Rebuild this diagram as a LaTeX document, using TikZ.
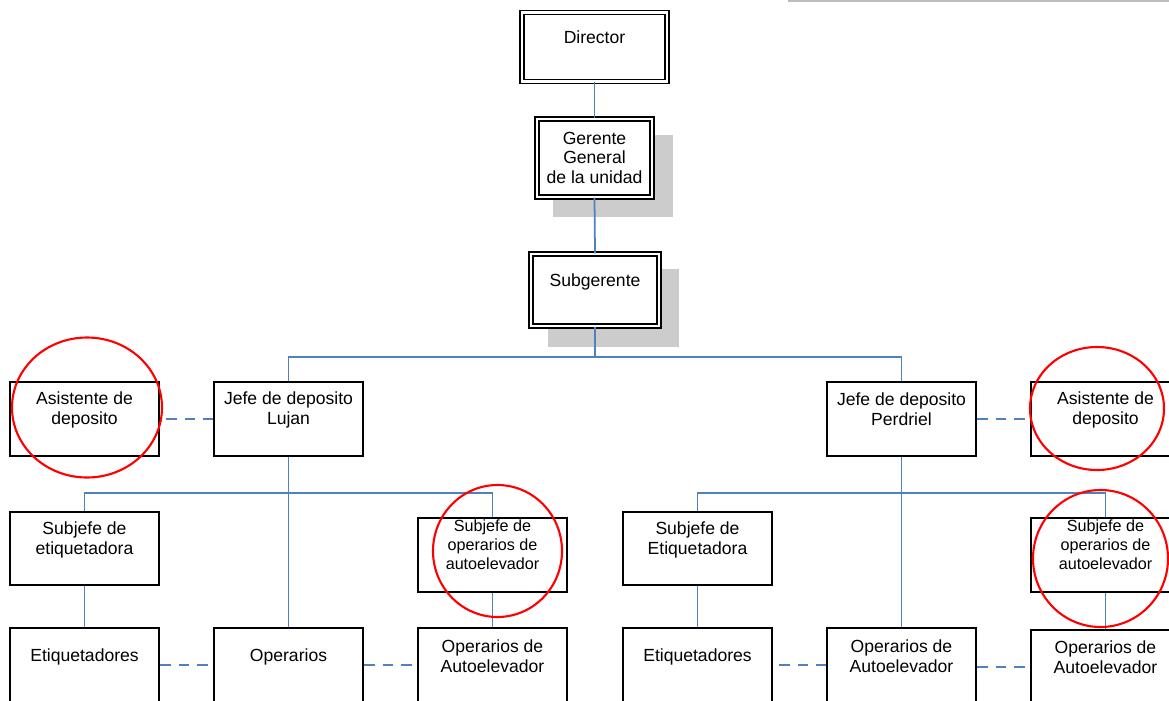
\documentclass[tikz,border=0pt]{standalone}
\usepackage{fontspec}
\setmainfont{Liberation Sans}
\usetikzlibrary{calc}
\definecolor{conblue}{RGB}{79,129,189}
\definecolor{shadowgray}{RGB}{204,204,204}
\definecolor{framegray}{RGB}{190,190,190}
\begin{document}
\begin{tikzpicture}[x=0.02cm,y=-0.02cm,
  box/.style={draw=black, line width=0.8pt, fill=white, inner sep=0pt,
    minimum width=149*0.02cm, minimum height=74*0.02cm},
  dbox/.style={draw=black, line width=0.7pt, double=white, double distance=1.5pt, fill=white, inner sep=0pt},
  lbl/.style={align=center, inner sep=0pt, font=\fontsize{10}{11.3}\selectfont},
  slbl/.style={align=center, inner sep=0pt, font=\fontsize{9.2}{11}\selectfont},
  con/.style={draw=conblue, line width=1pt},
  dcon/.style={draw=conblue, line width=1pt, dash pattern=on 6.2pt off 4.5pt},
  ring/.style={draw=red, line width=1.2pt}
]
\clip (0,0) rectangle (1169,700);
\fill[white] (0,0) rectangle (1169,700);
% partial frame at top right
\draw[framegray, line width=0.8pt] (789,-20) rectangle (1185,1.2);
% shadows
\fill[shadowgray] (553,135) rectangle (673,217);
\fill[shadowgray] (548,269) rectangle (679,347);
% top nodes
\node[dbox, minimum width=145*0.02cm, minimum height=69.5*0.02cm] (dir) at (594.5,47) {};
\node[dbox, minimum width=115*0.02cm, minimum height=78*0.02cm] (ger) at (594.5,158) {};
\node[dbox, minimum width=128*0.02cm, minimum height=72*0.02cm] (sub) at (595,290) {};
% level 2
\node[box] (asisL) at (84.5,419) {};
\node[box] (lujan) at (288.5,419) {};
\node[box] (perd) at (901.5,419) {};
\node[box] (asisR) at (1105.5,419) {};
% level 3
\node[box, minimum height=73*0.02cm] (subEtL) at (84.5,548.5) {};
\node[box] (subOpL) at (492.5,555) {};
\node[box] (etL) at (84.5,665) {};
\node[box] (operL) at (288.5,665) {};
\node[box] (opAuL) at (492.5,665) {};
\node[box, minimum height=73*0.02cm] (subEtR) at (697.5,548.5) {};
\node[box] (subOpR) at (1105.5,555) {};
\node[box] (etR) at (697.5,665) {};
\node[box] (opAuM) at (901.5,665) {};
\node[box] (opAuR) at (1105.5,667) {};
% connectors
\coordinate (bus1) at (595,357);
\coordinate (busL) at (288.5,493);
\coordinate (busR) at (901.5,493);
\draw[con] (dir.south) -- (ger.north);
\draw[con] (ger.south) -- (sub.north);
\draw[con] (sub.south) -- (bus1);
\draw[con] (lujan.north) |- (bus1) -| (perd.north);
\draw[con] (lujan.south) -- (operL.north);
\draw[con] (subEtL.north) |- (busL) -| (subOpL.north);
\draw[con] (subEtL.south) -- (etL.north);
\draw[con] (subOpL.south) -- (opAuL.north);
\draw[con] (perd.south) -- (opAuM.north);
\draw[con] (subEtR.north) |- (busR) -| (subOpR.north);
\draw[con] (subEtR.south) -- (etR.north);
\draw[con] (subOpR.south) -- (opAuR.north);
\draw[dcon] ([xshift=6*0.02cm]asisL.east) -- (lujan.west);
\draw[dcon] (perd.east) -- (asisR.west);
\draw[dcon] (etL.east) -- (operL.west);
\draw[dcon] (operL.east) -- (opAuL.west);
\draw[dcon] ([xshift=6*0.02cm]etR.east) -- (opAuM.west);
\draw[dcon] ([yshift=-2*0.02cm]opAuM.east) -- ([yshift=0*0.02cm]opAuR.west);
% labels
\node[lbl] (tdir) at ($(dir.north)+(0,25.5)$) {Director};
\node[lbl] (tger) at ($(ger.north)+(0,39.5)$) {Gerente\\General\\de la unidad};
\node[lbl] (tsub) at ($(sub.north)+(0,29)$) {Subgerente};
\node[lbl] (tasisL) at ($(asisL.north)+(0,29)$) {Asistente de\\deposito};
\node[lbl] (tlujan) at ($(lujan.north)+(0,29)$) {Jefe de deposito\\Lujan};
\node[lbl] (tperd) at ($(perd.north)+(0,28)$) {Jefe de deposito\\Perdriel};
\node[lbl] (tasisR) at ($(asisR.north)+(0,29)$) {Asistente de\\deposito};
\node[lbl] (tsubEtL) at ($(subEtL.north)+(0,28.5)$) {Subjefe de\\etiquetadora};
\node[slbl] (tsubOpL) at ($(subOpL.north)+(0,27.5)$) {Subjefe de\\operarios de\\autoelevador};
\node[lbl] (tetL) at ($(etL.north)+(0,30)$) {Etiquetadores};
\node[lbl] (toperL) at ($(operL.north)+(0,30)$) {Operarios};
\node[lbl] (topAuL) at ($(opAuL.north)+(0,29)$) {Operarios de\\Autoelevador};
\node[lbl] (tsubEtR) at ($(subEtR.north)+(0,28.5)$) {Subjefe de\\Etiquetadora};
\node[slbl] (tsubOpR) at ($(subOpR.north)+(0,27.5)$) {Subjefe de\\operarios de\\autoelevador};
\node[lbl] (tetR) at ($(etR.north)+(0,30)$) {Etiquetadores};
\node[lbl] (topAuM) at ($(opAuM.north)+(0,29)$) {Operarios de\\Autoelevador};
\node[lbl] (topAuR) at ($(opAuR.north)+(0,28)$) {Operarios de\\Autoelevador};
% red rings
\draw[ring] (87,407.5) ellipse [x radius=75*0.02cm, y radius=70*0.02cm];
\draw[ring] (1097,408.5) ellipse [x radius=67*0.02cm, y radius=61.5*0.02cm];
\draw[ring] (497.5,551) ellipse [x radius=64.5*0.02cm, y radius=66*0.02cm];
\draw[ring] (1100.5,558.5) ellipse [x radius=67.5*0.02cm, y radius=68.5*0.02cm];
\end{tikzpicture}
\end{document}
